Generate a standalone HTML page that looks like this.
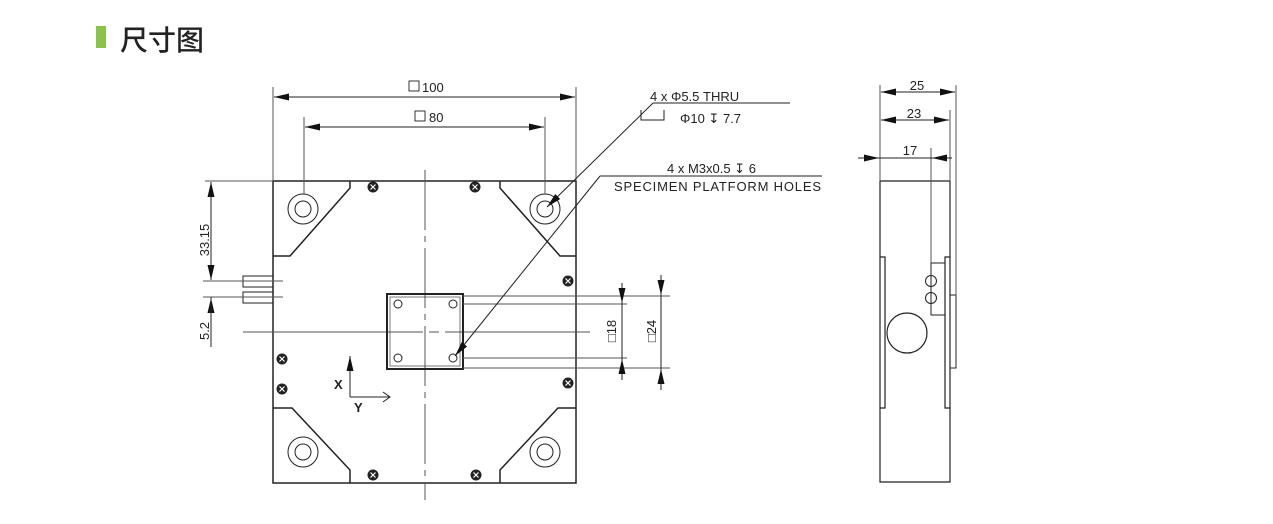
<!DOCTYPE html>
<html><head><meta charset="utf-8"><style>
html,body{margin:0;padding:0;background:#fff;}
body{width:1273px;height:524px;overflow:hidden;position:relative;}
.t{position:absolute;left:120px;top:19px;font:28px "Liberation Sans","Noto Sans CJK SC",sans-serif;color:#222;font-weight:500;}
.bar{position:absolute;left:96px;top:26px;width:10px;height:22px;background:#8bc34a;}
svg{position:absolute;left:0;top:0;}
text{font-family:"Liberation Sans","DejaVu Sans",sans-serif;font-size:13px;fill:#222;}
</style></head><body>
<div class="bar"></div><div class="t">尺寸图</div>
<svg width="1273" height="524" viewBox="0 0 1273 524">
<defs>
<marker id="a" viewBox="0 0 15 7" refX="15" refY="3.5" markerWidth="15" markerHeight="7" markerUnits="userSpaceOnUse" orient="auto-start-reverse"><path d="M0,0L15,3.5L0,7z" fill="#111"/></marker>
<g id="s"><circle r="5.5" fill="#222"/><path d="M-2.5,-2.5L2.5,2.5M-2.5,2.5L2.5,-2.5" stroke="#fff" stroke-width="1.2"/></g>
</defs>
<g stroke="#222" fill="none" stroke-width="1">
<rect x="273" y="181" width="303" height="302" stroke-width="1.5"/>
<path d="M350,181V188L290,256H273M500,181V188L560,256H576M273,408H292L350,470V483M576,408H558L500,470V483" stroke-width="1.5"/>
<circle cx="303" cy="209" r="15"/><circle cx="303" cy="209" r="8"/>
<circle cx="545" cy="209" r="15"/><circle cx="545" cy="209" r="8"/>
<circle cx="303" cy="452" r="15"/><circle cx="303" cy="452" r="8"/>
<circle cx="545" cy="452" r="15"/><circle cx="545" cy="452" r="8"/>
<path d="M425,170V500" stroke="#555" stroke-dasharray="60,6,6,6"/>
<path d="M243,332H590" stroke="#555" stroke-dasharray="180,6,10,6"/>
<rect x="387" y="294" width="76" height="75" stroke-width="2"/>
<rect x="390" y="297" width="70" height="69" stroke-width="0.6"/>
<circle cx="398" cy="304" r="4"/><circle cx="453" cy="304" r="4"/>
<circle cx="398" cy="358" r="4"/><circle cx="453" cy="358" r="4"/>
<rect x="243" y="276" width="30" height="11"/><rect x="243" y="292" width="30" height="11"/>
<path d="M273,87V181M576,87V181M304,117V194M545,117V194" stroke="#555"/>
<path d="M274,97H575" marker-start="url(#a)" marker-end="url(#a)"/>
<path d="M305,127H544" marker-start="url(#a)" marker-end="url(#a)"/>
<path d="M205,181H273M203,281H283M203,297H283" stroke="#555"/>
<path d="M211,182V280" marker-start="url(#a)" marker-end="url(#a)"/>
<path d="M211,318V298" marker-end="url(#a)"/>
<path d="M211,297V347"/>
<path d="M463,304H627M463,358H627M463,296H670M463,368H670" stroke="#555"/>
<path d="M622,283V303" marker-end="url(#a)"/><path d="M622,380V359" marker-end="url(#a)"/><path d="M622,303V359"/>
<path d="M661,275V295" marker-end="url(#a)"/><path d="M661,390V369" marker-end="url(#a)"/><path d="M661,295V369"/>
<path d="M653,103L547,207" marker-end="url(#a)"/><path d="M653,103H790"/>
<path d="M600,176L455,356" marker-end="url(#a)"/><path d="M600,176H822"/>
<path d="M641,110V120H664V110"/>
<path d="M350,397V356" marker-end="url(#a)"/><path d="M350,397H390"/>
<path d="M383,392L390,397L383,402"/>
<path d="M880,181V257M950,181V257M880,181H950M880,408V482H950V408" stroke-width="1.2"/>
<path d="M880,257H885V408H880V257M945,257H950V408H945Z" stroke-width="1.2"/>
<path d="M950,295H956V368H950"/>
<path d="M945,263H931V315H945"/>
<circle cx="931" cy="281" r="5.5"/><circle cx="931" cy="298" r="5.5"/>
<circle cx="907" cy="333" r="20" stroke-width="1.2"/>
<path d="M880,85V181M956,85V295M950,110V181M931,148V263" stroke="#555"/>
<path d="M881,92H955" marker-start="url(#a)" marker-end="url(#a)"/>
<path d="M881,120H949" marker-start="url(#a)" marker-end="url(#a)"/>
<path d="M858,158H879" marker-end="url(#a)"/><path d="M952,158H932" marker-end="url(#a)"/><path d="M879,158H932"/>
</g>
<g fill="#222" stroke="none">
<use href="#s" x="373" y="187"/><use href="#s" x="475" y="187"/>
<use href="#s" x="568" y="281"/><use href="#s" x="282" y="359"/>
<use href="#s" x="282" y="389"/><use href="#s" x="568" y="383"/>
<use href="#s" x="373" y="475"/><use href="#s" x="476" y="475"/>
</g>
<g stroke="#222" fill="none" stroke-width="0.9">
<rect x="409" y="81" width="10" height="10"/><rect x="415" y="111" width="10" height="10"/>
</g>
<text x="422" y="92">100</text>
<text x="429" y="122">80</text>
<text transform="translate(209,240) rotate(-90)" text-anchor="middle">33.15</text>
<text transform="translate(209,331) rotate(-90)" text-anchor="middle">5.2</text>
<text transform="translate(616,331) rotate(-90)" text-anchor="middle">□18</text>
<text transform="translate(656,331) rotate(-90)" text-anchor="middle">□24</text>
<text x="650" y="101">4 x  Φ5.5 THRU</text>
<text x="680" y="123">Φ10 ↧  7.7</text>
<text x="667" y="173">4 x M3x0.5 ↧ 6</text>
<text x="614" y="191" textLength="207">SPECIMEN PLATFORM HOLES</text>
<text x="334" y="389" font-weight="bold" font-size="13">X</text>
<text x="354" y="412" font-weight="bold" font-size="13">Y</text>
<text x="917" y="90" text-anchor="middle">25</text>
<text x="914" y="118" text-anchor="middle">23</text>
<text x="910" y="155" text-anchor="middle">17</text>
</svg>
</body></html>
